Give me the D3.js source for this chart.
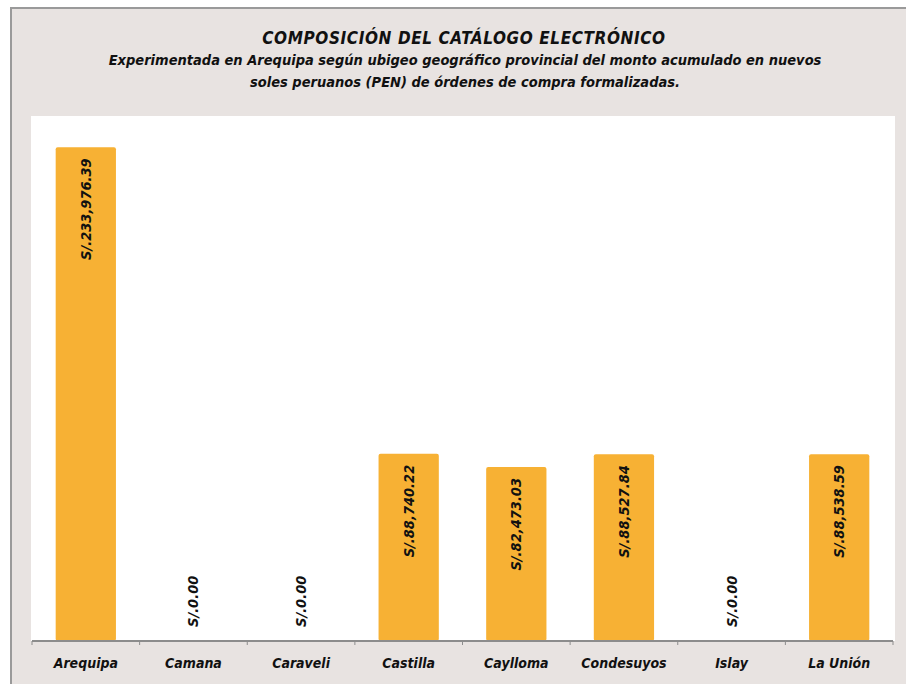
<!DOCTYPE html>
<html>
<head>
<meta charset="utf-8">
<script src="https://cdn.jsdelivr.net/npm/d3@7"></script>
<style>
  html, body { margin: 0; padding: 0; background: #ffffff; }
  svg { display: block; }
  text { font-family: "DejaVu Sans Condensed", "DejaVu Sans", sans-serif; font-style: italic; font-weight: bold; fill: #111; }
</style>
</head>
<body>
<script>
const categories = ["Arequipa", "Camana", "Caraveli", "Castilla", "Caylloma", "Condesuyos", "Islay", "La Unión"];
const values = [233976.39, 0, 0, 88740.22, 82473.03, 88527.84, 0, 88538.59];
const valueLabels = ["S/.233,976.39", "S/.0.00", "S/.0.00", "S/.88,740.22", "S/.82,473.03", "S/.88,527.84", "S/.0.00", "S/.88,538.59"];
const titleText = "COMPOSICIÓN  DEL CATÁLOGO  ELECTRÓNICO";
const subtitleLines = [
  "Experimentada en Arequipa según ubigeo geográfico provincial del monto acumulado en nuevos",
  "soles peruanos (PEN) de órdenes de compra formalizadas."
];
const yMax = 250000;

const W = 906, H = 684;
const svg = d3.select("body").append("svg").attr("width", W).attr("height", H);

// outer frame
svg.append("rect").attr("x", 0).attr("y", 0).attr("width", W).attr("height", H).attr("fill", "#ffffff");
svg.append("rect").attr("x", 11).attr("y", 8).attr("width", W - 11 + 5).attr("height", H - 8 + 5)
  .attr("fill", "#e8e3e1").attr("stroke", "#9a9a9a").attr("stroke-width", 2);

// plot area
const plot = { left: 31, top: 116, right: 895, bottom: 641 };
svg.append("rect").attr("x", plot.left).attr("y", plot.top)
  .attr("width", plot.right - plot.left).attr("height", plot.bottom - plot.top).attr("fill", "#ffffff");

const x = d3.scaleBand().domain(categories).range([32, 893]).paddingInner(0.44).paddingOuter(0.22);
const y = d3.scaleLinear().domain([0, yMax]).range([plot.bottom, plot.bottom - 527.5]);

// bars
svg.append("g").selectAll("rect").data(categories).join("rect")
  .attr("x", d => x(d))
  .attr("y", (d, i) => y(values[i]))
  .attr("width", x.bandwidth())
  .attr("height", (d, i) => y(0) - y(values[i]))
  .attr("rx", (d, i) => values[i] > 0 ? 2 : 0)
  .attr("fill", "#f7b134");

// value labels
svg.append("g").selectAll("text").data(categories).join("text")
  .attr("transform", (d, i) => {
    const cx = x(d) + x.bandwidth() / 2;
    const yy = values[i] > 0 ? y(values[i]) + 11 : y(0) - 14;
    return `translate(${cx + 5},${yy}) rotate(-90)`;
  })
  .attr("text-anchor", (d, i) => values[i] > 0 ? "end" : "start")
  .style("font-size", "14.5px")
  .text((d, i) => valueLabels[i]);

// x axis
const xAxisScale = d3.scaleBand().domain(categories).range([32, 893]);
const axis = svg.append("g").attr("transform", `translate(0,${plot.bottom})`)
  .call(d3.axisBottom(xAxisScale).tickSize(0).tickPadding(17));
axis.select(".domain").attr("stroke", "#8c8c8c").attr("stroke-width", 2).attr("d", "M32,0H893");
axis.selectAll(".tick text").style("font-size", "14px").style("font-family", "'DejaVu Sans Condensed', sans-serif")
  .style("font-style", "italic").style("font-weight", "bold").attr("fill", "#111");
// category boundary tick marks
const bounds = categories.map(c => xAxisScale(c)).concat([893]);
axis.selectAll(".bound").data(bounds).join("line").attr("class", "bound")
  .attr("x1", d => d).attr("x2", d => d).attr("y1", 0).attr("y2", 4)
  .attr("stroke", "#8c8c8c").attr("stroke-width", 1);

// titles
svg.append("text").attr("x", 464).attr("y", 44).attr("text-anchor", "middle")
  .style("font-size", "17px").style("letter-spacing", "0.6px").text(titleText);
subtitleLines.forEach((t, i) => {
  svg.append("text").attr("x", 465).attr("y", 65 + i * 22).attr("text-anchor", "middle")
    .style("font-size", "14.5px").style("letter-spacing", "0px").text(t);
});
</script>
</body>
</html>
